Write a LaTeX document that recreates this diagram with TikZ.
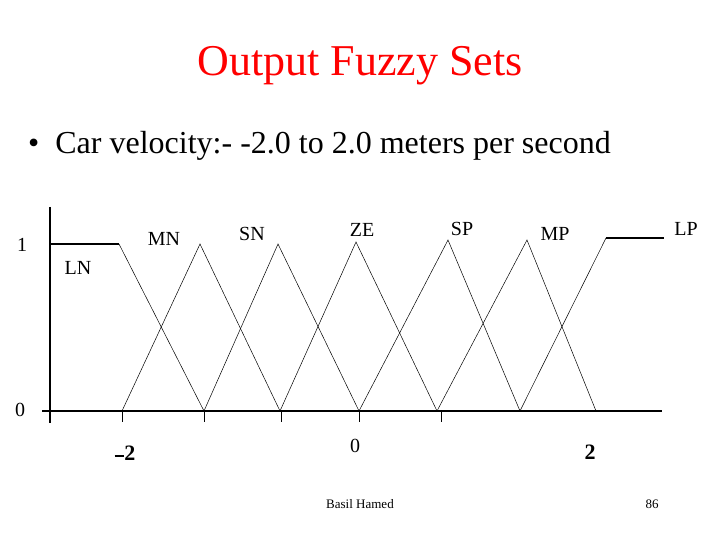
\documentclass[tikz,border=0pt]{standalone}
\usepackage{fontspec}
\setmainfont{Liberation Serif}
\begin{document}
\begin{tikzpicture}[x=1pt,y=-1pt,
  mf/.style={line width=0.5pt},
  ax/.style={line width=1.4pt},
  lbl/.style={font=\fontsize{20}{20}\selectfont,inner sep=0pt}]
\useasboundingbox (0,0) rectangle (720,540);
\node[text=red,font=\fontsize{44}{44}\selectfont] (title) at (360,66) {Output Fuzzy Sets};
\node[anchor=west,font=\fontsize{32}{32}\selectfont,inner sep=0pt] (bullet) at (28,146) {\textbullet\ \ Car velocity:- -2.0 to 2.0 meters per second};
% axes
\draw[ax] (50,207) -- (50,423);
\draw[ax] (42,411) -- (662,411);
\foreach \x in {122,204,281,359,441} \draw[line width=0.8pt] (\x,411) -- (\x,422);
% membership functions
\draw[ax] (50,244) -- (119,244);
\draw[mf] (119,244) -- (204,411);
\draw[mf] (122,411) -- (200,244) -- (280,411);
\draw[mf] (204,411) -- (278,244) -- (359,411);
\draw[mf] (280,411) -- (356,242) -- (437,411);
\draw[mf] (359,411) -- (448,240) -- (520,411);
\draw[mf] (437,411) -- (527,240) -- (596,411);
\draw[mf] (520,411) -- (606,238);
\draw[ax] (606,238) -- (664,238);
% labels
\node[lbl] (ln) at (78,268) {LN};
\node[lbl] (mn) at (164,239) {MN};
\node[lbl] (sn) at (252,234) {SN};
\node[lbl] (ze) at (362,230) {ZE};
\node[lbl] (sp) at (462,229) {SP};
\node[lbl] (mp) at (555,234) {MP};
\node[lbl] (lp) at (686,229) {LP};
\node[lbl] (one) at (22,245) {1};
\node[lbl] (zero) at (20,410) {0};
\node[lbl,font=\bfseries\fontsize{22}{22}\selectfont] (m2) at (125,453) {\rule[0.3ex]{0.45em}{0.12em}2};
\node[lbl] (z) at (355,446) {0};
\node[lbl,font=\bfseries\fontsize{22}{22}\selectfont] (p2) at (590,452) {2};
\node[font=\fontsize{13}{13}\selectfont] (foot) at (360,504) {Basil Hamed};
\node[font=\fontsize{13}{13}\selectfont] (num) at (652,504) {86};
\end{tikzpicture}
\end{document}
